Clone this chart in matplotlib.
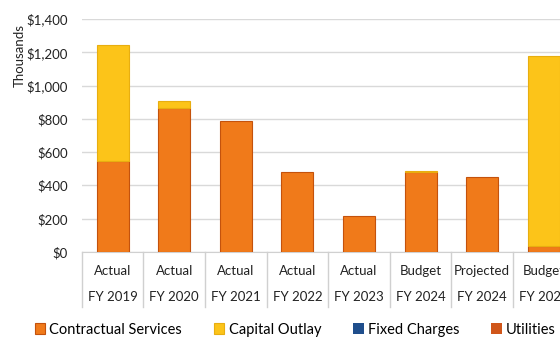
import matplotlib.pyplot as plt
import numpy as np

# spending by category, in thousands of dollars
status = ["Actual", "Actual", "Actual", "Actual", "Actual", "Budget", "Projected", "Budget"]
years = ["FY 2019", "FY 2020", "FY 2021", "FY 2022", "FY 2023", "FY 2024", "FY 2024", "FY 2025"]
contractual = [550, 865, 785, 478, 215, 478, 450, 35]
capital = [695, 45, 0, 0, 0, 8, 0, 1140]
fixed_charges = [0, 0, 0, 0, 0, 0, 0, 0]
utilities = [0, 0, 0, 0, 0, 0, 0, 0]

plt.rcParams['font.family'] = ['Lato', 'DejaVu Sans']

fig = plt.figure(figsize=(5.6, 3.37), dpi=100)
ax = fig.add_axes([0.146, 0.252, 0.88, 0.6916])

x = np.arange(len(years))
w = 0.52
bottom = np.zeros(len(years))
series = [
    ("Contractual Services", contractual, "#F07A1A", "#C4520C"),
    ("Capital Outlay", capital, "#FCC419", "#E8AE10"),
    ("Fixed Charges", fixed_charges, "#1F4E8C", "#163A6A"),
    ("Utilities", utilities, "#D0561A", "#A8400E"),
]
for name, vals, col, edge in series:
    vals = np.array(vals, dtype=float)
    lw = [0.8 if v > 0 else 0 for v in vals]
    ax.bar(x, vals, w, bottom=bottom, color=col, edgecolor=edge, linewidth=lw,
           label=name, zorder=3)
    bottom += vals

ax.set_xlim(-0.5, len(years) - 0.5)
ax.set_ylim(0, 1400)
ax.set_yticks(range(0, 1401, 200))
ax.set_yticklabels([f"${v:,}" for v in range(0, 1401, 200)], fontsize=9.5, color="#222222")
ax.tick_params(axis="y", length=0, pad=10)
ax.set_xticks([])
ax.grid(axis="y", color="#D9D9D9", linewidth=1, zorder=0)
for s in ["top", "right", "left"]:
    ax.spines[s].set_visible(False)
ax.spines["bottom"].set_color("#D0D0D0")

# two-row category labels with separators
trans = ax.get_xaxis_transform()
for i in range(len(years)):
    ax.text(i, -0.082, status[i], transform=trans, ha="center", va="center",
            fontsize=9.5, color="#222222")
    ax.text(i, -0.193, years[i], transform=trans, ha="center", va="center",
            fontsize=9.5, color="#222222")
for i in range(len(years) + 1):
    ax.plot([i - 0.5, i - 0.5], [0, -0.236], transform=trans, color="#D0D0D0",
            linewidth=1, clip_on=False)

fig.text(0.035, 0.835, "Thousands", rotation=90, ha="center", va="center",
         fontsize=9.5, color="#222222")

fig.legend(loc="center left", bbox_to_anchor=(0.062, 0.022), ncol=4, frameon=False,
           fontsize=10.5, handlelength=0.7, handleheight=0.7, handletextpad=0.3,
           columnspacing=2.2, borderaxespad=0, borderpad=0)

fig.savefig("out.png", dpi=100)
